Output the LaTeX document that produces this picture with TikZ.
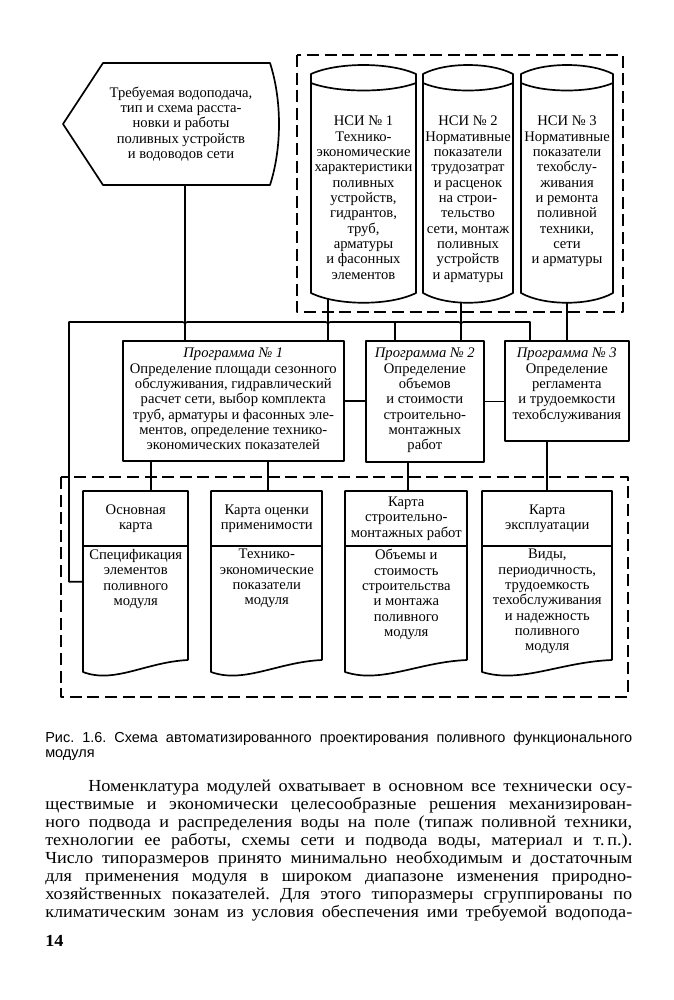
\documentclass[tikz,border=0pt]{standalone}
\usepackage{fontspec}
\setmainfont{Liberation Serif}
\newfontfamily\bodyfont{Liberation Serif}[FakeStretch=1.08]
\newfontfamily\capfont{Liberation Sans}
\frenchspacing
\usetikzlibrary{positioning,calc}
\tikzset{
  line/.style={line width=1.2pt},
  frame/.style={line width=0.9pt, dash pattern=on 3mm off 1.4mm},
  txt/.style={align=center, inner sep=0pt, font=\fontsize{10.4}{10.9}\selectfont},
  progbox/.style={draw, line width=1.2pt, anchor=north west, inner sep=0pt},
  bodytext/.style={anchor=base west, inner sep=0pt, font=\bodyfont\fontsize{12}{13}\selectfont},
}
\begin{document}
\begin{tikzpicture}[x=0.25mm, y=-0.25mm, line join=round]
\useasboundingbox[fill=white] (0,0) rectangle (674,1000);
% исходные данные
\draw[line] (103,63) -- (270,63) .. controls (282,100) and (282,148) .. (270,185) -- (103,185) -- (63,124) -- cycle;
\node[txt] (supply) at (181,124) {Требуемая водоподача,\\тип и схема расста-\\новки и работы\\поливных устройств\\и водоводов сети};
\coordinate (supply tap) at (185,185);
% НСИ
\draw[frame] (297,55) rectangle (623,312);
\foreach \l/\r in {311/416,423/513,521/613}{
  \draw[line] (\l,293) -- (\l,74) .. controls ({\l+(\r-\l)/4},62) and ({\r-(\r-\l)/4},62) .. (\r,74) -- (\r,293) .. controls ({\r-(\r-\l)/4},306) and ({\l+(\r-\l)/4},306) .. cycle;
  \draw[line] (\l,83) .. controls ({\l+(\r-\l)/4},93) and ({\r-(\r-\l)/4},93) .. (\r,83);
}
\node[txt, anchor=north] (nsi1) at (363.5,116) {НСИ № 1\\Технико-\\экономические\\характеристики\\поливных\\устройств,\\гидрантов,\\труб,\\арматуры\\и фасонных\\элементов};
\node[txt, anchor=north] (nsi2) at (468,116) {НСИ № 2\\Нормативные\\показатели\\трудозатрат\\и расценок\\на строи-\\тельство\\сети, монтаж\\поливных\\устройств\\и арматуры};
\node[txt, anchor=north] (nsi3) at (567,116) {НСИ № 3\\Нормативные\\показатели\\техобслу-\\живания\\и ремонта\\поливной\\техники,\\сети\\и арматуры};
\coordinate (nsi1 tap) at (328,298);
\coordinate (nsi2 tap) at (461,302);
\coordinate (nsi3 tap) at (567,303);
% программы
\node[progbox, minimum width=55.25mm, minimum height=30mm] (prog1) at (122,340) {};
\node[progbox, minimum width=29.5mm, minimum height=30.25mm] (prog2) at (365,340) {};
\node[progbox, minimum width=31mm, minimum height=25mm] (prog3) at (504,340) {};
\node[txt, below=2mm of prog1.north] (prog1 text) {\textit{Программа № 1}\\Определение площади сезонного\\обслуживания, гидравлический\\расчет сети, выбор комплекта\\труб, арматуры и фасонных эле-\\ментов, определение технико-\\экономических показателей};
\node[txt, below=2mm of prog2.north] (prog2 text) {\textit{Программа № 2}\\Определение\\объемов\\и стоимости\\строительно-\\монтажных\\работ};
\node[txt, below=2mm of prog3.north] (prog3 text) {\textit{Программа № 3}\\Определение\\регламента\\и трудоемкости\\техобслуживания};
\draw[line] (prog1.east) -- (prog1.east -| prog2.west);
\draw[line] (prog2.east) -- (prog2.east -| prog3.west);
% карты
\draw[frame] (61,477) rectangle (628,697);
\foreach \n/\l/\r/\tap/\p in {1/83/188/151/prog1,2/211/322/268/prog1,3/345/467/408/prog2,4/482/612/547/prog3}{
  \draw[line] (\r,660) -- (\r,491) -- (\l,491) -- (\l,672) .. controls ({\l+0.3*(\r-\l)},684) and ({\l+0.6*(\r-\l)},662) .. (\r,660);
  \draw[line] (\l,546) -- (\r,546);
  \node[anchor=north west, inner sep=0pt, minimum width={(\r-\l)*0.25mm}, minimum height=45.25mm] (doc\n) at (\l,491) {};
  \draw[line] (\tap,0 |- \p.south) -- (\tap,0 |- doc\n.north);
}
\node[txt] (doc1 head) at ($(doc1.north)+(0,27.5)$) {Основная\\карта};
\node[txt] (doc2 head) at ($(doc2.north)+(0,27.5)$) {Карта оценки\\применимости};
\node[txt] (doc3 head) at ($(doc3.north)+(0,27.5)$) {Карта\\строительно-\\монтажных работ};
\node[txt] (doc4 head) at ($(doc4.north)+(0,27.5)$) {Карта\\эксплуатации};
\node[txt, anchor=north] (doc1 body) at ($(doc1.north)+(0,58)$) {Спецификация\\элементов\\поливного\\модуля};
\node[txt, anchor=north] (doc2 body) at ($(doc2.north)+(0,58)$) {Технико-\\экономические\\показатели\\модуля};
\node[txt, anchor=north] (doc3 body) at ($(doc3.north)+(0,58)$) {Объемы и\\стоимость\\строительства\\и монтажа\\поливного\\модуля};
\node[txt, anchor=north] (doc4 body) at ($(doc4.north)+(0,58)$) {Виды,\\периодичность,\\трудоемкость\\техобслуживания\\и надежность\\поливного\\модуля};
% связи
\draw[line] (supply tap) -- (supply tap |- prog1.north);
\draw[line] (nsi1 tap) -- (nsi1 tap |- prog1.north);
\draw[line] (nsi2 tap) -- (nsi2 tap |- prog2.north);
\draw[line] (nsi3 tap) -- (nsi3 tap |- prog3.north);
\coordinate (bus) at (69,322);
\coordinate (j1) at (supply tap |- bus);
\coordinate (j2) at (nsi1 tap |- bus);
\coordinate (j3) at (nsi2 tap |- bus);
\draw[line] (doc1.west) -| (bus) -- ($(j1)+(-5,0)$) .. controls (j1) .. ($(j1)+(0,5)$);
\draw[line] ($(j1)+(0,5)$) .. controls (j1) .. ($(j1)+(5,0)$) -- ($(j2)+(-5,0)$) .. controls (j2) .. ($(j2)+(0,5)$);
\draw[line] ($(j2)+(0,5)$) .. controls (j2) .. ($(j2)+(5,0)$) -- ($(j3)+(-5,0)$) .. controls (j3) .. ($(j3)+(0,5)$);
\draw[line] ($(j3)+(0,5)$) .. controls (j3) .. ($(j3)+(5,0)$) -- (530,322) -- (530,0 |- prog3.north);
\draw[line] (395,322) -- (395,0 |- prog2.north);
% подпись и текст
\node[anchor=base west, inner sep=0pt, font=\capfont\fontsize{10.3}{11}\selectfont] (caption) at (45,742) {\makebox[146.75mm][s]{Рис. 1.6. Схема автоматизированного проектирования поливного функционального}};
\node[anchor=base west, inner sep=0pt, font=\capfont\fontsize{10.3}{11}\selectfont] (caption2) at (45,757) {модуля};
\node[bodytext] (line1) at (88,791) {\makebox[136mm][s]{Номенклатура модулей охватывает в основном все технически осу-}};
\foreach \i/\t in {2/{ществимые и экономически целесообразные решения механизирован-},
  3/{ного подвода и распределения воды на поле (типаж поливной техники,},
  4/{технологии ее работы, схемы сети и подвода воды, материал и т.\,п.).},
  5/{Число типоразмеров принято минимально необходимым и достаточным},
  6/{для применения модуля в широком диапазоне изменения природно-},
  7/{хозяйственных показателей. Для этого типоразмеры сгруппированы по},
  8/{климатическим зонам из условия обеспечения ими требуемой водопода-}}
  \node[bodytext] (line\i) at (45,{791+(\i-1)*18.1}) {\makebox[146.75mm][s]{\t}};
\node[anchor=base west, inner sep=0pt, font=\bodyfont\fontsize{12}{13}\selectfont\bfseries] (page) at (45,946) {14};
\end{tikzpicture}
\end{document}
